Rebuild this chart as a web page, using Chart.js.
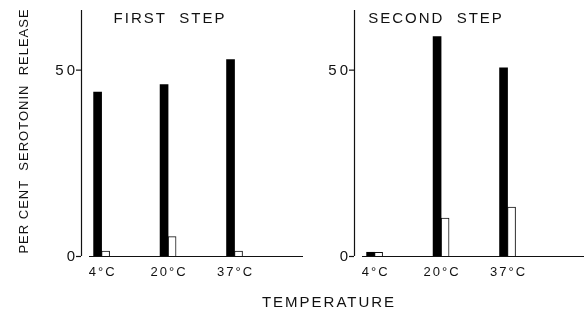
<!DOCTYPE html>
<html>
<head>
<meta charset="utf-8">
<script src="https://cdn.jsdelivr.net/npm/chart.js@4.4.1/dist/chart.umd.min.js"></script>
<style>
    html, body { margin: 0; padding: 0; background: #fff; }
    #wrap { position: relative; width: 584px; height: 314px; }
    canvas { position: absolute; left: 0; top: 0; }
</style>
</head>
<body>
<div id="wrap">
    <canvas id="firstStep" width="584" height="314"></canvas>
    <canvas id="secondStep" width="584" height="314"></canvas>
</div>
<script>
// temperature categories
const temps = ['4°C', '20°C', '37°C'];

// percent serotonin release - first step
const firstFilled = [44, 46, 52.7];
const firstOpen = [1.3, 5.2, 1.3];

// percent serotonin release - second step
const secondFilled = [1, 58.9, 50.5];
const secondOpen = [1, 10.2, 13.1];

const yTicks = [0, 50];

const FONT = '"Liberation Sans", Arial, sans-serif';

// draws the axes, ticks and lettering by hand (old hand-drawn figure look)
const figurePlugin = {
    id: 'figure',
    afterDraw(chart, args, opts) {
        const ctx = chart.ctx;
        const area = chart.chartArea;
        const x = chart.scales.x;
        const y = chart.scales.y;
        const zero = y.getPixelForValue(0);

        ctx.save();
        ctx.strokeStyle = '#111';
        ctx.fillStyle = '#111';
        ctx.lineWidth = 1.2;

        // y axis
        ctx.beginPath();
        ctx.moveTo(area.left + 0.5, area.top);
        ctx.lineTo(area.left + 0.5, zero);
        ctx.stroke();

        // baseline, detached from the y axis
        ctx.beginPath();
        ctx.moveTo(area.left + 8, zero + 0.5);
        ctx.lineTo(area.right, zero + 0.5);
        ctx.stroke();

        // y ticks
        ctx.font = '15px ' + FONT;
        ctx.letterSpacing = '3px';
        ctx.textAlign = 'right';
        ctx.textBaseline = 'middle';
        yTicks.forEach(t => {
            const py = y.getPixelForValue(t);
            ctx.beginPath();
            ctx.moveTo(area.left - 5, py + 0.5);
            ctx.lineTo(area.left, py + 0.5);
            ctx.stroke();
            ctx.fillText(String(t), area.left - 3, py + 1);
        });

        // x category labels
        ctx.font = '13px ' + FONT;
        ctx.letterSpacing = '2px';
        ctx.textAlign = 'center';
        temps.forEach((label, i) => {
            ctx.fillText(label, x.getPixelForValue(i) + 1, zero + 16);
        });

        // panel title
        ctx.font = '15px ' + FONT;
        ctx.letterSpacing = '2px';
        ctx.fillText(opts.title, opts.titleX, 19);

        if (opts.axisTitles) {
            ctx.fillText('TEMPERATURE', 329, 303);

            ctx.translate(24, 131);
            ctx.rotate(-Math.PI / 2);
            ctx.font = '13px ' + FONT;
            ctx.letterSpacing = '1px';
            ctx.fillText('PER CENT  SEROTONIN  RELEASE', 0, 0);
        }
        ctx.restore();
    }
};

const makePanel = (id, filled, open, padding, xMax, title, titleX, axisTitles) => {
    return new Chart(document.getElementById(id), {
        type: 'bar',
        data: {
            datasets: [{
                data: filled.map((v, i) => ({ x: i, y: v })),
                backgroundColor: '#000',
                borderWidth: 0,
                barThickness: 8
            }, {
                data: open.map((v, i) => ({ x: i, y: v })),
                backgroundColor: '#fff',
                borderColor: '#111',
                borderWidth: 1,
                barThickness: 8
            }]
        },
        options: {
            responsive: false,
            animation: false,
            layout: { padding: padding },
            scales: {
                x: { type: 'linear', display: false, offset: false, min: -0.31, max: xMax },
                y: { display: false, min: 0, max: 66 }
            },
            plugins: {
                legend: { display: false },
                tooltip: { enabled: false },
                figure: { title: title, titleX: titleX, axisTitles: axisTitles }
            }
        },
        plugins: [figurePlugin]
    });
};

makePanel('firstStep', firstFilled, firstOpen,
    { left: 81, top: 10, right: 281, bottom: 58 }, 3.03, 'FIRST  STEP', 170, true);
makePanel('secondStep', secondFilled, secondOpen,
    { left: 354, top: 10, right: 0, bottom: 58 }, 3.15, 'SECOND  STEP', 436, false);
</script>
</body>
</html>
